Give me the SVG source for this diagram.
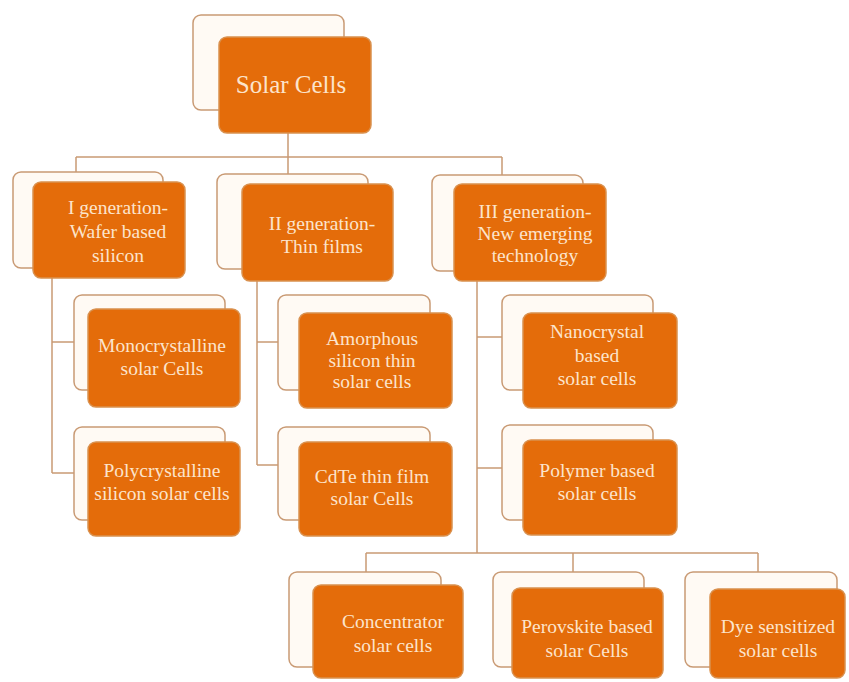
<svg xmlns="http://www.w3.org/2000/svg" width="849" height="682" viewBox="0 0 849 682">
<style>
.back{fill:#FFFAF4;stroke:#C99A74;stroke-width:1.5}
.front{fill:#E46C0A;stroke:#D9914F;stroke-width:1.5}
.t{font-family:"Liberation Serif","Times New Roman",serif;font-size:19.5px;fill:#FCE4CC;text-anchor:middle}
.title{font-size:25px}
.conn{fill:none;stroke:#C99A74;stroke-width:1.5}
</style>
<rect width="849" height="682" fill="#FFFFFF"/>
<g id="connectors">
<path class="conn" d="M288 133V157M76 157H502M76 157V172M288 157V174M502 157V175"/>
<path class="conn" d="M52 278V473M52 342H74M52 473H74"/>
<path class="conn" d="M257 281V465M257 342H278M257 465H278"/>
<path class="conn" d="M477 281V553M477 337H502M477 468H502"/>
<path class="conn" d="M366 553H758M366 553V572M573 553V572M758 553V572"/>
</g>
<g id="solar-cells">
<rect class="back" x="193" y="15" width="151" height="95" rx="8"/>
<rect class="front" x="219" y="37" width="152" height="96" rx="8"/>
<text class="t title" x="291" y="93">Solar Cells</text>
</g>
<g id="gen1">
<rect class="back" x="13" y="172" width="150" height="96" rx="8"/>
<rect class="front" x="33" y="182" width="152" height="96" rx="8"/>
<text class="t" x="118" y="214">I generation-</text>
<text class="t" x="118" y="238">Wafer based</text>
<text class="t" x="118" y="262">silicon</text>
</g>
<g id="gen2">
<rect class="back" x="217" y="174" width="151" height="95" rx="8"/>
<rect class="front" x="242" y="184" width="151" height="97" rx="8"/>
<text class="t" x="322" y="230">II generation-</text>
<text class="t" x="322" y="253">Thin films</text>
</g>
<g id="gen3">
<rect class="back" x="432" y="175" width="151" height="96" rx="8"/>
<rect class="front" x="454" y="184" width="152" height="97" rx="8"/>
<text class="t" x="535" y="218">III generation-</text>
<text class="t" x="535" y="240">New emerging</text>
<text class="t" x="535" y="262">technology</text>
</g>
<g id="mono">
<rect class="back" x="74" y="295" width="151" height="95" rx="8"/>
<rect class="front" x="88" y="309" width="152" height="98" rx="8"/>
<text class="t" x="162" y="352">Monocrystalline</text>
<text class="t" x="162" y="375">solar Cells</text>
</g>
<g id="poly">
<rect class="back" x="74" y="427" width="151" height="93" rx="8"/>
<rect class="front" x="88" y="442" width="152" height="94" rx="8"/>
<text class="t" x="162" y="477">Polycrystalline</text>
<text class="t" x="162" y="500">silicon solar cells</text>
</g>
<g id="amorphous">
<rect class="back" x="278" y="295" width="152" height="95" rx="8"/>
<rect class="front" x="299" y="313" width="153" height="95" rx="8"/>
<text class="t" x="372" y="345">Amorphous</text>
<text class="t" x="372" y="367">silicon thin</text>
<text class="t" x="372" y="388">solar cells</text>
</g>
<g id="cdte">
<rect class="back" x="278" y="427" width="152" height="93" rx="8"/>
<rect class="front" x="299" y="442" width="153" height="94" rx="8"/>
<text class="t" x="372" y="483">CdTe thin film</text>
<text class="t" x="372" y="505">solar Cells</text>
</g>
<g id="nano">
<rect class="back" x="502" y="295" width="151" height="95" rx="8"/>
<rect class="front" x="523" y="313" width="154" height="95" rx="8"/>
<text class="t" x="597" y="338">Nanocrystal</text>
<text class="t" x="597" y="362">based</text>
<text class="t" x="597" y="385">solar cells</text>
</g>
<g id="polymer">
<rect class="back" x="502" y="425" width="151" height="95" rx="8"/>
<rect class="front" x="523" y="440" width="154" height="95" rx="8"/>
<text class="t" x="597" y="477">Polymer based</text>
<text class="t" x="597" y="500">solar cells</text>
</g>
<g id="concentrator">
<rect class="back" x="289" y="572" width="152" height="95" rx="8"/>
<rect class="front" x="313" y="585" width="150" height="93" rx="8"/>
<text class="t" x="393" y="628">Concentrator</text>
<text class="t" x="393" y="652">solar cells</text>
</g>
<g id="perovskite">
<rect class="back" x="493" y="572" width="151" height="95" rx="8"/>
<rect class="front" x="512" y="588" width="151" height="90" rx="8"/>
<text class="t" x="587" y="633">Perovskite based</text>
<text class="t" x="587" y="657">solar Cells</text>
</g>
<g id="dye">
<rect class="back" x="685" y="572" width="152" height="95" rx="8"/>
<rect class="front" x="710" y="589" width="135" height="89" rx="8"/>
<text class="t" x="778" y="633">Dye sensitized</text>
<text class="t" x="778" y="657">solar cells</text>
</g>
</svg>
